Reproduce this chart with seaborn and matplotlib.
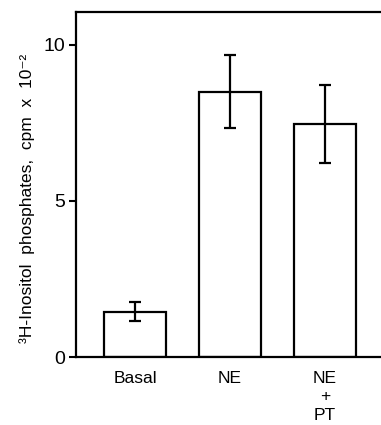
import matplotlib
matplotlib.use("Agg")
import matplotlib.pyplot as plt
import seaborn as sns
import pandas as pd

# values
groups = ["Basal", "NE", "NE\n+\nPT"]
means = [1.45, 8.5, 7.45]
errors = [0.3, 1.17, 1.25]

df = pd.DataFrame({"group": groups, "value": means})

sns.set_style("white")
plt.rcParams["font.family"] = ["Liberation Sans", "DejaVu Sans"]
plt.rcParams["text.color"] = "black"
plt.rcParams["axes.labelcolor"] = "black"
plt.rcParams["xtick.color"] = "black"
plt.rcParams["ytick.color"] = "black"

fig = plt.figure(figsize=(3.81, 4.25), dpi=100)
ax = fig.add_axes([0.2, 0.16, 0.8, 0.812])

sns.barplot(data=df, x="group", y="value", color="white", edgecolor="black",
            linewidth=1.6, width=0.66, errorbar=None, ax=ax)
ax.errorbar(range(len(groups)), means, yerr=errors, fmt="none", ecolor="black",
            elinewidth=1.6, capsize=4, capthick=1.6)

ax.set_xlim(-0.62, 2.59)
ax.set_ylim(0, 11.05)
ax.set_yticks([0, 5, 10])
ax.tick_params(axis="y", direction="out", length=5, width=1.5, labelsize=14, pad=3, left=True)
ax.tick_params(axis="x", length=0, labelsize=12.5, pad=10)
for t in ax.get_xticklabels():
    t.set_linespacing(1.3)
ax.set_xlabel("")
ax.set_ylabel("³H-Inositol  phosphates,  cpm  x  10⁻²", fontsize=12.5)
ax.yaxis.set_label_coords(-0.135, 0.46)

for s in ["left", "bottom", "top"]:
    ax.spines[s].set_visible(True)
    ax.spines[s].set_color("black")
    ax.spines[s].set_linewidth(1.6)
ax.spines["right"].set_visible(False)

fig.savefig("out.png", dpi=100)
